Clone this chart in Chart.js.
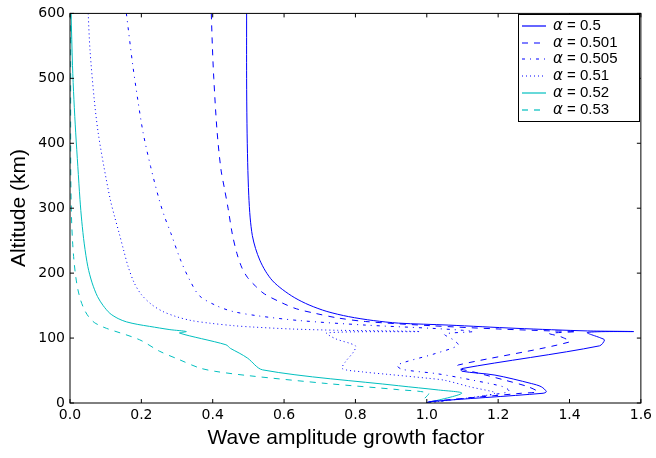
<!DOCTYPE html>
<html>
<head>
<meta charset="utf-8">
<script src="https://cdn.jsdelivr.net/npm/chart.js@4.4.0/dist/chart.umd.min.js"></script>
<style>
  html, body { margin: 0; background: #fff; }
  #wrap { width: 656px; height: 458px; }
</style>
</head>
<body>
<div id="wrap"><canvas id="chart" width="656" height="458"></canvas></div>
<script>
// alpha values shown in the legend
const alphaLabels = ["0.5", "0.501", "0.505", "0.51", "0.52", "0.53"];
const seriesColors = ["#0000ff", "#0000ff", "#0000ff", "#0000ff", "#00bfbf", "#00bfbf"];
const seriesDashes = [[], [6, 6], [3, 5, 1, 5], [1, 3], [], [6, 6]];

// tick labels
const xTicks = [0.0, 0.2, 0.4, 0.6, 0.8, 1.0, 1.2, 1.4, 1.6];
const yTicks = [0, 100, 200, 300, 400, 500, 600];

// growth factor (x) and altitude in km (y)
const growth05 = [0.495, 0.495, 0.496, 0.498, 0.501, 0.505, 0.511, 0.520, 0.532, 0.548, 0.568, 0.595, 0.630, 0.670, 0.720, 0.781, 0.850, 0.921, 1.060, 1.250, 1.450, 1.580, 1.450, 1.488, 1.498, 1.484, 1.098, 1.098, 1.191, 1.293, 1.321, 1.335, 1.326, 1.005, 1.000];
const alt05    = [600, 500, 430, 370, 320, 285, 258, 238, 220, 203, 188, 175, 162, 151, 141, 133, 127, 123, 120, 115, 111, 110, 108.6, 100, 97, 88, 53, 49, 43, 30, 25, 17.5, 15, 2, 0];

const growth0501 = [0.396, 0.399, 0.403, 0.412, 0.423, 0.433, 0.443, 0.455, 0.468, 0.482, 0.498, 0.520, 0.545, 0.595, 0.635, 0.688, 0.750, 0.828, 1.013, 1.200, 1.350, 1.420, 1.344, 1.376, 1.400, 1.088, 1.085, 1.130, 1.220, 1.284, 1.310, 1.265, 1.005, 1.000];
const alt0501    = [600, 550, 500, 420, 360, 330, 300, 260, 230, 208, 193, 180, 168, 154, 145, 138, 131, 125.5, 119, 114, 111, 110, 107, 102, 94, 58.5, 54, 48, 35, 25, 17.4, 15, 2, 0];

const growth0505 = [0.158, 0.176, 0.190, 0.205, 0.226, 0.250, 0.265, 0.283, 0.310, 0.335, 0.363, 0.410, 0.456, 0.530, 0.642, 0.828, 1.014, 1.100, 1.130, 1.050, 1.075, 1.088, 1.023, 0.917, 0.930, 1.030, 1.130, 1.220, 1.230, 1.000];
const alt0505    = [600, 520, 467, 416, 364, 313, 287, 261, 220, 190, 165, 150, 141, 134, 127, 120, 115, 112, 110, 106, 97, 89, 76, 58.5, 52, 45, 35, 24, 17, 0];

const growth051 = [0.051, 0.056, 0.068, 0.079, 0.095, 0.113, 0.125, 0.138, 0.150, 0.163, 0.180, 0.200, 0.228, 0.260, 0.298, 0.340, 0.391, 0.460, 0.512, 0.620, 0.750, 0.900, 0.980, 0.720, 0.744, 0.800, 0.795, 0.772, 0.763, 0.819, 0.893, 1.005, 1.050, 1.120, 1.191, 1.000];
const alt051    = [600, 544, 467, 416, 364, 313, 287, 261, 236, 210, 185, 167, 152, 141, 133, 127, 123, 119, 117, 114, 112, 111, 110, 108, 99, 88, 79, 63.5, 53, 48, 44, 38, 35, 25, 15, 0];

const growth052 = [0.003, 0.007, 0.011, 0.016, 0.022, 0.028, 0.033, 0.040, 0.050, 0.062, 0.077, 0.093, 0.112, 0.135, 0.158, 0.190, 0.223, 0.280, 0.326, 0.307, 0.437, 0.450, 0.474, 0.498, 0.540, 0.921, 1.033, 1.098, 1.000];
const alt052    = [600, 520, 467, 416, 364, 313, 280, 245, 210, 185, 164, 150, 138, 130, 125, 121, 118, 113, 110, 107.7, 89.7, 84, 77, 69, 51, 26.6, 20, 15, 0];

const growth053 = [0.002, 0.002, 0.004, 0.007, 0.011, 0.016, 0.022, 0.030, 0.040, 0.052, 0.068, 0.085, 0.102, 0.195, 0.250, 0.307, 0.363, 0.409, 0.502, 0.720, 0.921, 1.005, 0.991, 1.000];
const alt053    = [600, 364, 290, 250, 220, 195, 175, 158, 144, 133, 124, 119, 115, 97.4, 80, 66.6, 54, 48.6, 42, 30, 20.5, 15, 4.6, 0];

function toPoints(xs, ys) {
  return xs.map((x, i) => ({ x: x, y: ys[i] }));
}

const seriesX = [growth05, growth0501, growth0505, growth051, growth052, growth053];
const seriesY = [alt05, alt0501, alt0505, alt051, alt052, alt053];

const datasets = alphaLabels.map((label, i) => ({
  label: label,
  data: toPoints(seriesX[i], seriesY[i]),
  showLine: true,
  borderColor: seriesColors[i],
  backgroundColor: seriesColors[i],
  borderWidth: 1,
  borderDash: seriesDashes[i],
  pointRadius: 0,
  tension: 0.3,
  fill: false
}));

// box, inward ticks, axis titles and legend, matplotlib style
const framePlugin = {
  id: "frame",
  afterDraw(chart) {
    const ctx = chart.ctx;
    const a = chart.chartArea;
    const xs = chart.scales.x, ys = chart.scales.y;
    ctx.save();
    ctx.strokeStyle = "#000";
    ctx.lineWidth = 1;
    ctx.setLineDash([]);
    ctx.strokeRect(a.left, a.top, a.right - a.left, a.bottom - a.top);
    ctx.beginPath();
    xTicks.forEach(v => {
      const px = xs.getPixelForValue(v);
      ctx.moveTo(px, a.bottom); ctx.lineTo(px, a.bottom - 4);
      ctx.moveTo(px, a.top); ctx.lineTo(px, a.top + 4);
    });
    yTicks.forEach(v => {
      const py = ys.getPixelForValue(v);
      ctx.moveTo(a.left, py); ctx.lineTo(a.left + 4, py);
      ctx.moveTo(a.right, py); ctx.lineTo(a.right - 4, py);
    });
    ctx.stroke();

    // axis titles
    ctx.fillStyle = "#000";
    ctx.font = "21px 'Liberation Sans', Arial, sans-serif";
    ctx.textAlign = "center";
    ctx.textBaseline = "middle";
    ctx.fillText("Wave amplitude growth factor", 346, 438);
    ctx.save();
    ctx.translate(19, 208);
    ctx.rotate(-Math.PI / 2);
    ctx.fillText("Altitude (km)", 0, 0);
    ctx.restore();

    // legend
    const lx = 518.5, ly = 14.5, lw = 121, lh = 107;
    ctx.fillStyle = "#fff";
    ctx.fillRect(lx, ly, lw, lh);
    ctx.strokeStyle = "#000";
    ctx.strokeRect(lx, ly, lw, lh);
    ctx.textAlign = "left";
    alphaLabels.forEach((label, i) => {
      const ry = Math.round(26 + i * 16.7);
      ctx.save();
      ctx.strokeStyle = seriesColors[i];
      ctx.lineWidth = 1.2;
      ctx.setLineDash(seriesDashes[i]);
      ctx.beginPath();
      ctx.moveTo(522, ry);
      ctx.lineTo(546, ry);
      ctx.stroke();
      ctx.restore();
      ctx.fillStyle = "#000";
      ctx.font = "italic 15px 'DejaVu Sans', sans-serif";
      ctx.fillText("\u03b1", 553, ry);
      const w = ctx.measureText("\u03b1").width;
      ctx.font = "15px 'Liberation Sans', Arial, sans-serif";
      ctx.fillText(" = " + label, 553 + w, ry);
    });
    ctx.restore();
  }
};

new Chart(document.getElementById("chart"), {
  type: "scatter",
  data: { datasets: datasets },
  options: {
    responsive: false,
    animation: false,
    devicePixelRatio: 1,
    layout: { padding: { top: 13, right: 13, left: 0, bottom: 0 } },
    plugins: { legend: { display: false }, tooltip: { enabled: false } },
    scales: {
      x: {
        type: "linear",
        min: 0, max: 1.6,
        afterBuildTicks: s => { s.ticks = xTicks.map(v => ({ value: v })); },
        afterFit: s => { s.height = 55; },
        grid: { display: false, drawTicks: false },
        border: { display: false },
        ticks: {
          color: "#000",
          padding: 4,
          font: { family: "'DejaVu Sans'", size: 14 },
          callback: v => Number(v).toFixed(1)
        }
      },
      y: {
        type: "linear",
        min: 0, max: 600,
        afterBuildTicks: s => { s.ticks = yTicks.map(v => ({ value: v })); },
        afterFit: s => { s.width = 70; },
        grid: { display: false, drawTicks: false },
        border: { display: false },
        ticks: {
          color: "#000",
          padding: 5,
          font: { family: "'DejaVu Sans'", size: 14 },
          callback: v => String(v)
        }
      }
    }
  },
  plugins: [framePlugin]
});
</script>
</body>
</html>
